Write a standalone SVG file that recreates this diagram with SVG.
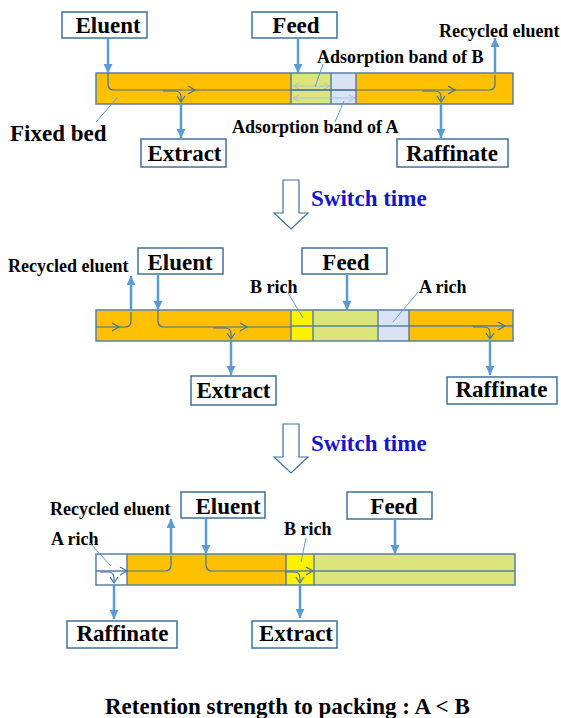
<svg xmlns="http://www.w3.org/2000/svg" width="561" height="718" viewBox="0 0 561 718">
<defs>
<marker id="ah" markerUnits="userSpaceOnUse" markerWidth="10" markerHeight="10" refX="9" refY="4.5" orient="auto">
<path d="M0,0 L9,4.5 L0,9 z" fill="#5B9BD5"/>
</marker>
<marker id="dh" markerUnits="userSpaceOnUse" markerWidth="8" markerHeight="8" refX="6" refY="3" orient="auto-start-reverse">
<path d="M0,0 L6,3 L0,6" fill="none" stroke="#9DC3E6" stroke-width="0.8"/>
</marker>
<style>
.box{fill:#fff;stroke:#41719C;stroke-width:1.5}
.bt{font-family:"Liberation Serif","Times New Roman",serif;font-weight:bold;font-size:23px;fill:#000;text-anchor:middle}
.lb{font-family:"Liberation Serif","Times New Roman",serif;font-weight:bold;font-size:18px;fill:#000}
.big{font-family:"Liberation Serif","Times New Roman",serif;font-weight:bold;font-size:23px;fill:#000}
.sw{font-family:"Liberation Serif","Times New Roman",serif;font-weight:bold;font-size:23px;fill:#1515C8}
.bed{stroke:#5A7FA4;stroke-width:1.5}
.or{fill:#FFC000}
.gr{fill:#DCE57A}
.ye{fill:#FFF200}
.lbl{fill:#DAE3F3}
.wh{fill:#FFFFFF}
.thick{stroke:#5B9BD5;stroke-width:2.5;fill:none;marker-end:url(#ah)}
.flow{stroke:#41719C;stroke-width:1.2;fill:none}
.lead{stroke:#5B9BD5;stroke-width:1;fill:none}
.hol{fill:#fff;stroke:#41719C;stroke-width:1.2}
</style>
</defs>

<!-- ===== Panel 1 ===== -->
<g id="bed1">
<rect class="or" x="96" y="73" width="417" height="31"/>
<rect class="gr" x="291" y="73" width="40" height="31"/>
<rect class="lbl" x="331" y="73" width="25" height="31"/>
<line class="bed" x1="291" y1="90" x2="356" y2="90"/>
<line class="bed" x1="291" y1="73" x2="291" y2="104"/>
<line class="bed" x1="331" y1="73" x2="331" y2="104"/>
<line class="bed" x1="356" y1="73" x2="356" y2="104"/>
<rect class="bed" fill="none" x="96" y="73" width="417" height="31"/>
<line x1="293" y1="86" x2="330" y2="86" stroke="#9DC3E6" stroke-width="0.9" marker-start="url(#dh)" marker-end="url(#dh)"/>
<line x1="293" y1="98" x2="355" y2="98" stroke="#9DC3E6" stroke-width="0.9" marker-start="url(#dh)" marker-end="url(#dh)"/>
</g>
<g id="eluent1"><rect class="box" x="62" y="12" width="85" height="26"/><text class="bt" x="108" y="33">Eluent</text></g>
<g id="feed1"><rect class="box" x="252" y="12" width="85" height="26"/><text class="bt" x="296" y="33">Feed</text></g>
<g id="extract1"><rect class="box" x="141" y="139" width="85" height="28"/><text class="bt" x="184.5" y="161">Extract</text></g>
<g id="raffinate1"><rect class="box" x="397" y="139" width="111" height="28"/><text class="bt" x="452" y="161">Raffinate</text></g>
<g id="labels1">
<text class="lb" x="439" y="37">Recycled eluent</text>
<text class="lb" x="317" y="63">Adsorption band of B</text>
<text class="lb" x="232" y="133">Adsorption band of A</text>
<text class="big" x="10" y="141">Fixed bed</text>
<line class="lead" x1="323" y1="64" x2="315" y2="87"/>
<line class="lead" x1="344" y1="101" x2="335" y2="122"/>
<line class="lead" x1="96" y1="122" x2="117" y2="98"/>
</g>

<!-- switch 1 -->
<g id="switch1">
<polygon class="hol" points="283,180 299,180 299,213 308,213 291,229 274,213 283,213"/>
<text class="sw" x="311" y="206">Switch time</text>
</g>

<!-- ===== Panel 2 ===== -->
<g id="bed2">
<rect class="or" x="96" y="310" width="417" height="31"/>
<rect class="ye" x="291" y="310" width="22" height="31"/>
<rect class="gr" x="313" y="310" width="65" height="31"/>
<rect class="lbl" x="378" y="310" width="31" height="31"/>
<line class="bed" x1="291" y1="326" x2="513" y2="326"/>
<line class="bed" x1="291" y1="310" x2="291" y2="341"/>
<line class="bed" x1="313" y1="310" x2="313" y2="341"/>
<line class="bed" x1="378" y1="310" x2="378" y2="341"/>
<line class="bed" x1="409" y1="310" x2="409" y2="341"/>
<rect class="bed" fill="none" x="96" y="310" width="417" height="31"/>
</g>
<g id="eluent2"><rect class="box" x="138" y="248" width="85" height="26"/><text class="bt" x="180" y="270">Eluent</text></g>
<g id="feed2"><rect class="box" x="302" y="248" width="85" height="26"/><text class="bt" x="346" y="270">Feed</text></g>
<g id="extract2"><rect class="box" x="191" y="376" width="85" height="29"/><text class="bt" x="233.5" y="398">Extract</text></g>
<g id="raffinate2"><rect class="box" x="447" y="377" width="110" height="27"/><text class="bt" x="501.5" y="397">Raffinate</text></g>
<g id="labels2">
<text class="lb" x="8" y="272">Recycled eluent</text>
<text class="lb" x="250" y="293">B rich</text>
<text class="lb" x="419" y="293">A rich</text>
<line class="lead" x1="288" y1="293" x2="303" y2="318"/>
<line class="lead" x1="418" y1="292" x2="393" y2="322"/>
</g>

<!-- switch 2 -->
<g id="switch2">
<polygon class="hol" points="283,424 299,424 299,457 308,457 291,473 274,457 283,457"/>
<text class="sw" x="311" y="451">Switch time</text>
</g>

<!-- ===== Panel 3 ===== -->
<g id="bed3">
<rect class="wh" x="96" y="554" width="31" height="31"/>
<rect class="or" x="127" y="554" width="159" height="31"/>
<rect class="ye" x="286" y="554" width="28" height="31"/>
<rect class="gr" x="314" y="554" width="201" height="31"/>
<line class="bed" x1="96" y1="571" x2="127" y2="571"/>
<line class="bed" x1="286" y1="571" x2="515" y2="571"/>
<line class="bed" x1="127" y1="554" x2="127" y2="585"/>
<line class="bed" x1="286" y1="554" x2="286" y2="585"/>
<line class="bed" x1="314" y1="554" x2="314" y2="585"/>
<rect class="bed" fill="none" x="96" y="554" width="419" height="31"/>
</g>
<g id="eluent3"><rect class="box" x="181" y="492" width="84" height="26"/><text class="bt" x="228" y="514">Eluent</text></g>
<g id="feed3"><rect class="box" x="347" y="492" width="85" height="27"/><text class="bt" x="394" y="514">Feed</text></g>
<g id="extract3"><rect class="box" x="252" y="621" width="85" height="27"/><text class="bt" x="296" y="641">Extract</text></g>
<g id="raffinate3"><rect class="box" x="67" y="621" width="110" height="27"/><text class="bt" x="122.5" y="641">Raffinate</text></g>
<g id="labels3">
<text class="lb" x="50" y="515">Recycled eluent</text>
<text class="lb" x="51" y="545">A rich</text>
<text class="lb" x="284" y="535">B rich</text>
<line class="lead" x1="89" y1="542" x2="111" y2="566"/>
<line class="lead" x1="306" y1="538" x2="301" y2="562"/>
</g>

<text class="big" x="105" y="714">Retention strength to packing : A &lt; B</text>

<!-- ===== Connectors ===== -->
<g id="connectors">
<!-- panel 1 -->
<line class="thick" x1="108" y1="38" x2="108" y2="73"/>
<line class="thick" x1="298" y1="38" x2="298" y2="73"/>
<line class="thick" x1="181" y1="104" x2="181" y2="138"/>
<line class="thick" x1="441" y1="104" x2="441" y2="138"/>
<line class="thick" x1="495" y1="73" x2="495" y2="38"/>
<path class="flow" d="M108,73 V84 Q108,90 114,90 H489 Q495,90 495,84 V75"/>
<path class="flow" d="M188,86 L195,90 L188,94"/>
<path class="flow" d="M448,86 L455,90 L448,94"/>
<path class="flow" d="M163,91 H175 Q181,91 181,97 V101"/>
<path class="flow" d="M177,96 L181,102 L185,96"/>
<path class="flow" d="M422,91 H435 Q441,91 441,97 V101"/>
<path class="flow" d="M437,96 L441,102 L445,96"/>
<!-- panel 2 -->
<line class="thick" x1="158" y1="274" x2="158" y2="310"/>
<line class="thick" x1="347" y1="274" x2="347" y2="310"/>
<line class="thick" x1="131" y1="310" x2="131" y2="276"/>
<line class="thick" x1="231" y1="341" x2="231" y2="375"/>
<line class="thick" x1="490" y1="341" x2="490" y2="375"/>
<path class="flow" d="M96,327 H125 Q131,327 131,321 V312"/>
<path class="flow" d="M112,323 L119,327 L112,331"/>
<path class="flow" d="M158,310 V321 Q158,327 164,327 H291"/>
<path class="flow" d="M240,323 L247,327 L240,331"/>
<path class="flow" d="M213,328 H225 Q231,328 231,334 V338"/>
<path class="flow" d="M227,333 L231,339 L235,333"/>
<path class="flow" d="M473,327 H484 Q490,327 490,333 V338"/>
<path class="flow" d="M486,333 L490,339 L494,333"/>
<path class="flow" d="M498,322 L505,326 L498,330"/>
<!-- panel 3 -->
<line class="thick" x1="206" y1="518" x2="206" y2="554"/>
<line class="thick" x1="395" y1="519" x2="395" y2="554"/>
<line class="thick" x1="171" y1="554" x2="171" y2="519"/>
<line class="thick" x1="114" y1="585" x2="114" y2="619"/>
<line class="thick" x1="300" y1="585" x2="300" y2="618"/>
<path class="flow" d="M127,571 H165 Q171,571 171,565 V556"/>
<path class="flow" d="M120,567 L127,571 L120,575"/>
<path class="flow" d="M100,572 H108 Q114,572 114,578 V582"/>
<path class="flow" d="M110,577 L114,583 L118,577"/>
<path class="flow" d="M206,554 V565 Q206,571 212,571 H286"/>
<path class="flow" d="M306,567 L313,571 L306,575"/>
<path class="flow" d="M285,572 H294 Q300,572 300,578 V582"/>
<path class="flow" d="M296,577 L300,583 L304,577"/>
</g>
</svg>
